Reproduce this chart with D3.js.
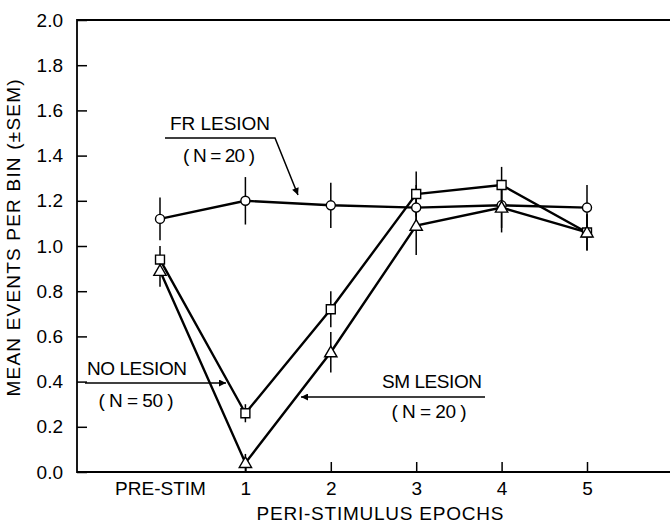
<!DOCTYPE html>
<html>
<head>
<meta charset="utf-8">
<script src="https://cdn.jsdelivr.net/npm/d3@7"></script>
<style>
  html, body { margin: 0; padding: 0; background: #fff; }
  svg { display: block; }
  text { font-family: "Liberation Sans", Arial, sans-serif; fill: #000; }
</style>
</head>
<body>
<svg id="chart" width="670" height="525"></svg>
<script>
// ---- data ----
const categories = ["PRE-STIM", "1", "2", "3", "4", "5"];
const yTicks = [0, 0.2, 0.4, 0.6, 0.8, 1.0, 1.2, 1.4, 1.6, 1.8, 2.0];

const frMean = [1.12, 1.20, 1.18, 1.17, 1.18, 1.17];
const frSem  = [0.095, 0.105, 0.10, 0.10, 0.10, 0.10];

const noMean = [0.94, 0.26, 0.72, 1.23, 1.27, 1.06];
const noSem  = [0.06, 0.04, 0.08, 0.10, 0.08, 0.08];

const smMean = [0.89, 0.04, 0.53, 1.09, 1.17, 1.06];
const smSem  = [0.07, 0.04, 0.09, 0.13, 0.11, 0.08];

const series = [
  { name: "FR", mean: frMean, sem: frSem, symbol: d3.symbolCircle, size: 64 },
  { name: "NO", mean: noMean, sem: noSem, symbol: d3.symbolSquare, size: 80 },
  { name: "SM", mean: smMean, sem: smSem, symbol: d3.symbolTriangle, size: 66 }
];

// ---- layout ----
const mLeft = 77, mTop = 20, mBottom = 472, mRight = 670;
const FS = 19;
const svg = d3.select("#chart");

const x = d3.scalePoint().domain(categories).range([160, 587]);
const y = d3.scaleLinear().domain([0, 2]).range([mBottom, mTop]);

// frame
svg.append("path")
  .attr("d", `M${mRight},${mTop}H${mLeft}V${mBottom}H${mRight}`)
  .attr("fill", "none").attr("stroke", "#000").attr("stroke-width", 1.8);

// y axis
const yAxis = svg.append("g").attr("transform", `translate(${mLeft},0)`)
  .call(d3.axisLeft(y).tickValues(yTicks).tickFormat(d3.format(".1f"))
    .tickSizeInner(-10).tickSizeOuter(0).tickPadding(14));
yAxis.select(".domain").remove();
yAxis.selectAll(".tick line").attr("stroke", "#000").attr("stroke-width", 1.5);
yAxis.selectAll(".tick text").attr("font-size", FS).attr("font-family", "Liberation Sans, Arial, sans-serif");

// x axis
const xAxis = svg.append("g").attr("transform", `translate(0,${mBottom})`)
  .call(d3.axisBottom(x).tickSizeInner(-10).tickSizeOuter(0).tickPadding(10));
xAxis.select(".domain").remove();
xAxis.selectAll(".tick line").attr("stroke", "#000").attr("stroke-width", 1.5)
  .filter(d => d === "PRE-STIM").remove();
xAxis.selectAll(".tick text").attr("font-size", FS).attr("font-family", "Liberation Sans, Arial, sans-serif");

// axis titles
svg.append("text")
  .attr("x", 380).attr("y", 520).attr("text-anchor", "middle")
  .attr("font-size", FS).attr("textLength", 247).attr("lengthAdjust", "spacing")
  .text("PERI-STIMULUS  EPOCHS");

svg.append("text")
  .attr("transform", "translate(20,238) rotate(-90)")
  .attr("text-anchor", "middle").attr("font-size", FS)
  .attr("textLength", 317).attr("lengthAdjust", "spacing")
  .text("MEAN EVENTS PER BIN (±SEM)");

// error bars
series.forEach(s => {
  svg.append("g").selectAll("line").data(categories).join("line")
    .attr("x1", d => x(d)).attr("x2", d => x(d))
    .attr("y1", (d, i) => y(s.mean[i] + s.sem[i]))
    .attr("y2", (d, i) => y(Math.max(0, s.mean[i] - s.sem[i])))
    .attr("stroke", "#000").attr("stroke-width", 1.5);
});

// lines
const line = d3.line().x((d, i) => x(categories[i])).y(d => y(d));
series.forEach(s => {
  svg.append("path").datum(s.mean).attr("d", line)
    .attr("fill", "none").attr("stroke", "#000").attr("stroke-width", 2.4)
    .attr("stroke-linejoin", "miter");
});

// markers
series.forEach(s => {
  const sym = d3.symbol().type(s.symbol).size(s.size);
  svg.append("g").selectAll("path").data(s.mean).join("path")
    .attr("d", sym)
    .attr("transform", (d, i) => `translate(${x(categories[i])},${y(d) + (s.symbol === d3.symbolTriangle ? 1 : 0)})`)
    .attr("fill", "#fff").attr("stroke", "#000").attr("stroke-width", 1.4);
});

// annotations
const defs = svg.append("defs");
defs.append("marker").attr("id", "arr")
  .attr("viewBox", "0 0 10 10").attr("refX", 10).attr("refY", 5)
  .attr("markerWidth", 12).attr("markerHeight", 7).attr("markerUnits", "userSpaceOnUse")
  .attr("orient", "auto")
  .append("path").attr("d", "M0,0L10,5L0,10z").attr("fill", "#000");

function label(txt, cx, yb, len) {
  svg.append("text").attr("x", cx).attr("y", yb).attr("text-anchor", "middle")
    .attr("font-size", FS).attr("textLength", len).attr("lengthAdjust", "spacing").text(txt);
}

// FR LESION
label("FR LESION", 220, 130, 100);
label("( N = 20 )", 219, 162, 72);
svg.append("path").attr("d", "M165,138H275L298,195")
  .attr("fill", "none").attr("stroke", "#000").attr("stroke-width", 1.5)
  .attr("marker-end", "url(#arr)");

// NO LESION
label("NO LESION", 137, 375, 100);
label("( N = 50 )", 136, 407, 75);
svg.append("path").attr("d", "M85,383H226")
  .attr("fill", "none").attr("stroke", "#000").attr("stroke-width", 1.5)
  .attr("marker-end", "url(#arr)");

// SM LESION
label("SM LESION", 432, 388, 100);
label("( N = 20 )", 429, 418, 75);
svg.append("path").attr("d", "M485,397H301")
  .attr("fill", "none").attr("stroke", "#000").attr("stroke-width", 1.5)
  .attr("marker-end", "url(#arr)");
</script>
</body>
</html>
